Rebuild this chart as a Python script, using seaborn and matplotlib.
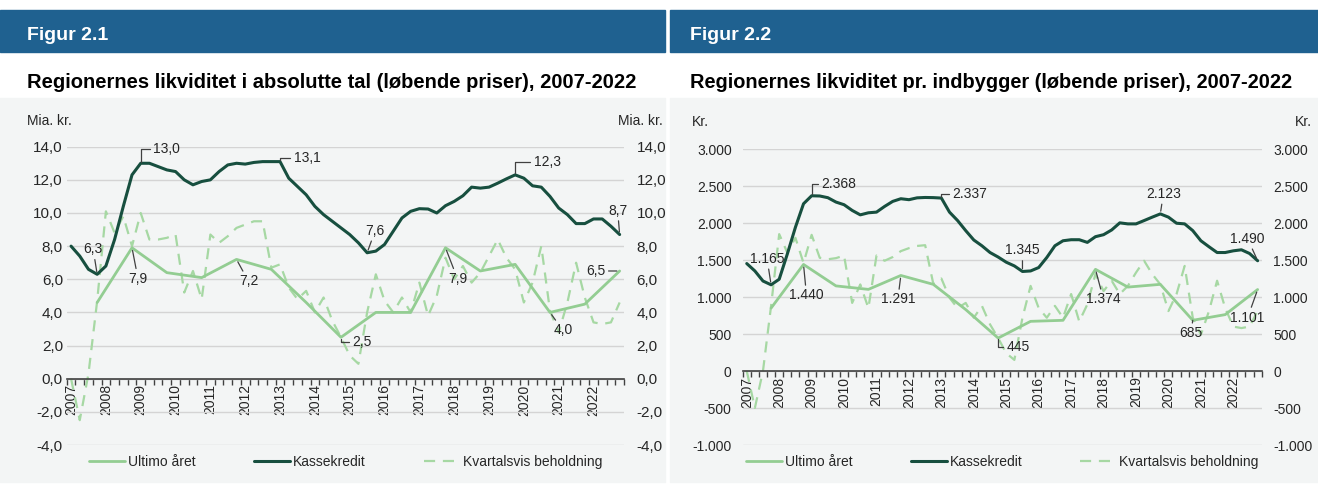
import numpy as np
import pandas as pd
import seaborn as sns
import matplotlib.pyplot as plt
from matplotlib.patches import Rectangle
from matplotlib.ticker import FuncFormatter, MultipleLocator

sns.set_theme(style='white')
plt.rcParams['font.family'] = ['Liberation Sans', 'DejaVu Sans']

years = list(range(2007, 2023))

# Figur 2.1 - mia. kr. (kvartaler 2007K1 - 2022K4)
kasse_abs = [8.0, 7.4, 6.6, 6.3, 6.8, 8.4, 10.4, 12.3, 13.0, 13.0,
             12.8, 12.6, 12.5, 12.0, 11.7, 11.9, 12.0, 12.5, 12.9, 13.0,
             12.95, 13.05, 13.1, 13.1, 13.1, 12.1, 11.6, 11.1, 10.4, 9.9,
             9.5, 9.1, 8.7, 8.2, 7.6, 7.7, 8.1, 8.9, 9.7, 10.1,
             10.26, 10.24, 10.0, 10.44, 10.7, 11.04, 11.56, 11.5, 11.56, 11.8,
             12.06, 12.3, 12.1, 11.64, 11.56, 11.0, 10.3, 9.9, 9.36, 9.36,
             9.64, 9.64, 9.2, 8.7]
ultimo_abs = [4.6, 7.9, 6.4, 6.1, 7.2, 6.6, 4.6, 2.5, 4.0, 4.0, 7.9, 6.5, 6.9, 4.0, 4.5, 6.5]
kvartal_abs = [0.0, -2.5, 0.3, 4.7, 10.1, 8.8, 9.8, 8.0, 10.0, 8.4,
               8.4, 8.5, 8.7, 5.2, 6.5, 4.8, 8.7, 8.2, 8.6, 9.1,
               9.3, 9.5, 9.5, 6.7, 6.9, 5.5, 4.8, 5.3, 4.0, 4.9,
               3.5, 2.5, 1.4, 0.9, 4.0, 6.3, 4.7, 4.0, 4.9, 4.0,
               5.8, 3.8, 5.0, 7.3, 6.0, 6.8, 5.8, 6.4, 7.4, 8.4,
               7.3, 6.6, 4.6, 5.8, 8.0, 4.1, 2.8, 4.6, 7.0, 4.9,
               3.4, 3.3, 3.4, 4.6]

# Figur 2.2 - kr. pr. indbygger
kasse_ind = [1452, 1352, 1216, 1165, 1240, 1580, 1942, 2260, 2368, 2365,
             2342, 2283, 2247, 2170, 2110, 2138, 2147, 2224, 2292, 2328,
             2315, 2340, 2345, 2343, 2337, 2147, 2033, 1897, 1770, 1692,
             1601, 1540, 1470, 1420, 1345, 1352, 1398, 1534, 1692, 1760,
             1774, 1774, 1738, 1815, 1842, 1906, 2002, 1988, 1988, 2033,
             2079, 2123, 2079, 1997, 1988, 1897, 1760, 1679, 1601, 1601,
             1624, 1638, 1588, 1490]
ultimo_ind = [850, 1440, 1150, 1103, 1291, 1171, 830, 445, 671, 685, 1374, 1134, 1171, 685, 762, 1101]
kvartal_ind = [0, -500, 0, 880, 1850, 1600, 1800, 1460, 1840, 1530,
               1510, 1525, 1560, 920, 1170, 850, 1560, 1490, 1540, 1620,
               1660, 1690, 1700, 1180, 1250, 990, 850, 920, 720, 880,
               630, 445, 240, 150, 720, 1150, 850, 720, 880, 720,
               1040, 670, 900, 1310, 1080, 1220, 1040, 1150, 1330, 1490,
               1310, 1170, 810, 1040, 1420, 720, 490, 810, 1220, 850,
               600, 580, 600, 810]

DARK = '#174f3f'
LIGHT = '#93cd92'
LIGHT_D = '#a6d8a3'
TXT = '#262626'

# data labels: (serie, kvartal-index, dx px, dy px, vinkel-ledelinje)
labels_abs = [('k', 3, -4, 25, False), ('k', 8, 26, 14, True), ('k', 24, 27, 4, True),
              ('k', 34, 8, 22, False), ('k', 51, 32, 13, True), ('k', 63, -2, 24, False),
              ('u', 7, 6, -31, False), ('u', 19, 12, -22, False), ('u', 31, 21, -5, True),
              ('u', 43, 12, -31, False), ('u', 55, 13, -18, False), ('u', 63, -24, 0, False)]
labels_ind = [('k', 3, -4, 26, False), ('k', 8, 27, 12, True), ('k', 24, 28, 4, True),
              ('k', 34, 0, 21, False), ('k', 51, 3, 20, False), ('k', 63, -10, 22, False),
              ('u', 7, 3, -31, False), ('u', 19, -3, -24, False), ('u', 31, 20, -9, True),
              ('u', 43, 8, -30, False), ('u', 55, -2, -13, False), ('u', 63, -10, -28, False)]


def fmt_abs(v, pos=None):
    return f'{v:.1f}'.replace('.', ',')


def fmt_ind(v, pos=None):
    return f'{v:,.0f}'.replace(',', '.')


def draw_panel(ax, kasse, ultimo, kvartal, labels, ylim, step, fmt, unit,
               pads, ysize, unit_x, unit_y):
    q = pd.DataFrame({'pos': np.arange(len(kasse)), 'kasse': kasse, 'kvartal': kvartal})
    u = pd.DataFrame({'pos': [(y - years[0]) * 4 + 3 for y in years], 'ultimo': ultimo})

    sns.lineplot(data=q, x='pos', y='kvartal', ax=ax, color=LIGHT_D, lw=1.6,
                 linestyle=(0, (5, 3.5)), label='Kvartalsvis beholdning')
    sns.lineplot(data=u, x='pos', y='ultimo', ax=ax, color=LIGHT, lw=2.0, label='Ultimo året')
    sns.lineplot(data=q, x='pos', y='kasse', ax=ax, color=DARK, lw=2.2, label='Kassekredit')

    ax.set_xlim(-0.5, len(kasse) - 0.5)
    ax.set_ylim(*ylim)
    ax.yaxis.set_major_locator(MultipleLocator(step))
    ax.yaxis.set_major_formatter(FuncFormatter(fmt))
    ax.yaxis.grid(True, color='#d4d4d4', lw=1)
    ax.set_facecolor('none')
    for s in ['top', 'left', 'right']:
        ax.spines[s].set_visible(False)
    ax.spines['bottom'].set_position(('data', 0))
    ax.spines['bottom'].set_color('#404040')
    ax.spines['bottom'].set_linewidth(1.2)

    ax.set_xticks([(y - years[0]) * 4 for y in years], labels=[str(y) for y in years], rotation=90)
    ax.set_xticks(np.arange(-0.5, len(kasse)), minor=True)
    ax.tick_params(axis='x', which='major', length=0, pad=4, labelsize=10, labelcolor=TXT)
    ax.tick_params(axis='x', which='minor', bottom=True, length=4, width=1, color='#404040', direction='out')
    ax.tick_params(axis='y', left=False, right=False, length=0, labelleft=True, labelright=False,
                   labelsize=ysize, labelcolor=TXT, pad=pads[0])
    ax.set_xlabel('')
    ax.set_ylabel('')

    # højre y-akse med samme skala
    axr = ax.twinx()
    axr.set_ylim(*ylim)
    axr.yaxis.set_major_locator(MultipleLocator(step))
    axr.yaxis.set_major_formatter(FuncFormatter(fmt))
    axr.tick_params(axis='y', right=False, length=0, labelsize=ysize, labelcolor=TXT, pad=pads[1])
    axr.grid(False)
    for s in axr.spines.values():
        s.set_visible(False)

    ax.text(unit_x[0], unit_y, unit, transform=ax.transAxes, fontsize=10, color=TXT, ha='left', va='center')
    ax.text(unit_x[1], unit_y, unit, transform=ax.transAxes, fontsize=10, color=TXT, ha='right', va='center')

    for serie, i, dx, dy, angled in labels:
        if serie == 'k':
            x, v = i, kasse[i]
        else:
            x, v = i, ultimo[(i - 3) // 4]
        if angled:
            props = dict(arrowstyle='-', color='#404040', lw=0.9, shrinkA=0, shrinkB=1,
                         connectionstyle='angle,angleA=0,angleB=90,rad=0')
        else:
            props = dict(arrowstyle='-', color='#404040', lw=0.9, shrinkA=0, shrinkB=2)
        ax.annotate(fmt(v), xy=(x, v), xytext=(dx, dy), textcoords='offset pixels',
                    ha='center', va='center', fontsize=10, color=TXT, arrowprops=props)

    h, l = ax.get_legend_handles_labels()
    order = [l.index('Ultimo året'), l.index('Kassekredit'), l.index('Kvartalsvis beholdning')]
    ax.legend([h[k] for k in order], [l[k] for k in order], loc='center', bbox_to_anchor=(0.5, -0.058),
              ncol=3, frameon=False, fontsize=10, handlelength=2.6, handletextpad=0.2,
              columnspacing=4.2, labelcolor=TXT)


fig = plt.figure(figsize=(13.18, 4.98), dpi=100)
fig.patch.set_facecolor('white')
W, H = 1318, 498

# baggrund og overskriftsbjælker
for x0, x1 in [(0, 665), (670, 1318)]:
    fig.patches.append(Rectangle((x0 / W, (H - 482) / H), (x1 - x0) / W, (482 - 98) / H,
                                 transform=fig.transFigure, color='#f3f5f5', zorder=-10))
    fig.patches.append(Rectangle((x0 / W, (H - 52) / H), (x1 - x0) / W, 42 / H,
                                 transform=fig.transFigure, color='#1f6190', zorder=-10))

fig.text(27 / W, 1 - 36 / H, 'Figur 2.1', color='white', fontsize=14, fontweight='bold', va='center')
fig.text(690 / W, 1 - 36 / H, 'Figur 2.2', color='white', fontsize=14, fontweight='bold', va='center')
fig.text(27 / W, 1 - 82 / H, 'Regionernes likviditet i absolutte tal (løbende priser), 2007-2022',
         color='black', fontsize=14.5, fontweight='bold', va='center')
fig.text(690 / W, 1 - 82 / H, 'Regionernes likviditet pr. indbygger (løbende priser), 2007-2022',
         color='black', fontsize=14.4, fontweight='bold', va='center')

ax1 = fig.add_axes([66.7 / W, (H - 445) / H, 557.3 / W, 298.3 / H])
draw_panel(ax1, kasse_abs, ultimo_abs, kvartal_abs, labels_abs, (-4, 14), 2, fmt_abs, 'Mia. kr.',
           pads=(2.7, 9.1), ysize=11, unit_x=(-0.071, 1.070), unit_y=1.087)

ax2 = fig.add_axes([742.7 / W, (H - 445) / H, 519 / W, 296 / H])
draw_panel(ax2, kasse_ind, ultimo_ind, kvartal_ind, labels_ind, (-1000, 3000), 500, fmt_ind, 'Kr.',
           pads=(7.9, 8.4), ysize=10, unit_x=(-0.098, 1.096), unit_y=1.092)

fig.savefig('out.png', dpi=100)
